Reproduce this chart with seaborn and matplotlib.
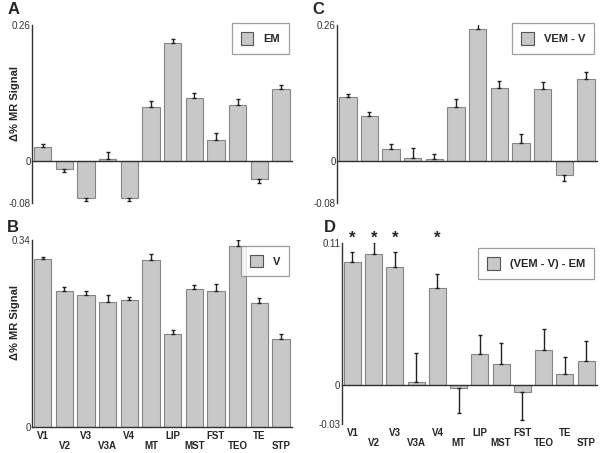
#!/usr/bin/env python3

import pandas as pd
import numpy as np
import matplotlib
matplotlib.use("Agg")
import matplotlib.pyplot as plt
import seaborn as sns
from matplotlib.patches import Patch

regions = ['V1', 'V2', 'V3', 'V3A', 'V4', 'MT', 'LIP', 'MST', 'FST', 'TEO', 'TE', 'STP']

em_values = [0.026, -0.015, -0.070, 0.004, -0.070, 0.104, 0.226, 0.121, 0.041, 0.108, -0.034, 0.137]
em_errors = [0.006, 0.006, 0.006, 0.013, 0.006, 0.011, 0.008, 0.009, 0.012, 0.010, 0.008, 0.009]

v_values = [0.305, 0.248, 0.241, 0.228, 0.231, 0.304, 0.170, 0.251, 0.248, 0.330, 0.226, 0.161]
v_errors = [0.005, 0.006, 0.006, 0.013, 0.006, 0.011, 0.007, 0.008, 0.012, 0.010, 0.008, 0.008]

vemv_values = [0.123, 0.087, 0.023, 0.006, 0.004, 0.103, 0.253, 0.140, 0.035, 0.137, -0.026, 0.157]
vemv_errors = [0.005, 0.007, 0.009, 0.019, 0.009, 0.016, 0.011, 0.012, 0.017, 0.014, 0.012, 0.013]

diff_values = [0.0952, 0.1010, 0.0911, 0.0023, 0.0747, -0.0018, 0.0240, 0.0166, -0.0056, 0.0271, 0.0084, 0.0189]
diff_errors = [0.0079, 0.0093, 0.0120, 0.0225, 0.0110, 0.0199, 0.0144, 0.0159, 0.0213, 0.0164, 0.0133, 0.0154]
diff_sig = [True, True, True, False, True, False, False, False, False, False, False, False]

BAR_COLOR = '#c8c8c8'
EDGE_COLOR = '#858585'

sns.set_style("white")
plt.rcParams['font.family'] = ['Liberation Sans', 'DejaVu Sans']


def fmt_tick(v):
    return '0' if v == 0 else f'{v:.2f}'


def draw_panel(fig, rect, values, errors, ylim, legend_text, letter,
               letter_pos, ylabel=False, xlabels=False, legend_box=None, sig=None):
    ax = fig.add_axes(rect)
    df = pd.DataFrame({'region': regions, 'value': values})
    sns.barplot(data=df, x='region', y='value', ax=ax, color=BAR_COLOR,
                saturation=1, edgecolor=EDGE_COLOR, linewidth=0.8, width=0.8)

    vals = np.array(values)
    errs = np.array(errors)
    lower = np.where(vals < 0, errs, 0)
    upper = np.where(vals >= 0, errs, 0)
    ax.errorbar(np.arange(len(regions)), vals, yerr=[lower, upper], fmt='none',
                ecolor='#222222', elinewidth=1.0, capsize=1.5, capthick=1.0)

    ax.set_xlim(-0.5, len(regions) - 0.5)
    ax.set_ylim(*ylim)
    for s in ['top', 'right']:
        ax.spines[s].set_visible(False)
    ax.spines['left'].set_color('#333333')
    ax.spines['left'].set_linewidth(1.0)
    ax.spines['bottom'].set_position(('data', 0))
    ax.spines['bottom'].set_color('#333333')
    ax.spines['bottom'].set_linewidth(1.0)

    yt = sorted(set([ylim[0], 0, ylim[1]]))
    ax.set_yticks(yt)
    ax.set_yticklabels([fmt_tick(v) for v in yt])
    ax.tick_params(axis='y', direction='in', length=3, width=1, labelsize=7,
                   colors='#333333', pad=1)
    ax.set_xticks(np.arange(len(regions)) + 0.5, minor=True)
    ax.set_xticks([])
    ax.tick_params(axis='x', which='minor', direction='out', length=3, width=1,
                   colors='#333333')
    ax.set_xlabel('')
    if ylabel:
        ax.set_ylabel('Δ% MR Signal', fontsize=8, fontweight='bold')
        ax.yaxis.set_label_coords(-0.045, 0.56)
    else:
        ax.set_ylabel('')

    if xlabels:
        sec = ax.secondary_xaxis(0.0)
        sec.set_xticks(np.arange(len(regions)))
        sec.set_xticklabels([r if i % 2 == 0 else '\n' + r for i, r in enumerate(regions)],
                            fontsize=7, fontweight='bold', linespacing=1.0)
        sec.tick_params(length=0, pad=3)
        sec.spines['bottom'].set_visible(False)

    if sig is not None:
        for i, flag in enumerate(sig):
            if flag:
                ax.text(i, ylim[1] - 0.002, '*', ha='center', va='bottom',
                        fontsize=12, fontweight='bold', clip_on=False)

    handle = Patch(facecolor=BAR_COLOR, edgecolor='#555555', linewidth=0.8)
    leg = ax.legend([handle], [legend_text], loc='upper right', bbox_to_anchor=legend_box,
                    frameon=True, fancybox=False, handlelength=1.1, handleheight=1.4,
                    borderpad=0.8, handletextpad=0.9, prop={'weight': 'bold', 'size': 8})
    leg.get_frame().set_edgecolor('#888888')
    leg.get_frame().set_linewidth(0.9)

    fig.text(letter_pos[0], letter_pos[1], letter, fontsize=12, fontweight='bold',
             ha='left', va='top')
    return ax


fig = plt.figure(figsize=(6.04, 4.53), dpi=100)

draw_panel(fig, [0.053, 0.552, 0.430, 0.393], em_values, em_errors, (-0.08, 0.26),
           'EM', 'A', (0.012, 0.995), ylabel=True, legend_box=(1.01, 1.04))
draw_panel(fig, [0.558, 0.552, 0.430, 0.393], vemv_values, vemv_errors, (-0.08, 0.26),
           'VEM - V', 'C', (0.517, 0.995), legend_box=(1.01, 1.04))
draw_panel(fig, [0.053, 0.057, 0.430, 0.413], v_values, v_errors, (0, 0.34),
           'V', 'B', (0.012, 0.515), ylabel=True, xlabels=True, legend_box=(1.01, 1.0))
draw_panel(fig, [0.566, 0.064, 0.422, 0.400], diff_values, diff_errors, (-0.03, 0.11),
           '(VEM - V) - EM', 'D', (0.537, 0.515), xlabels=True,
           legend_box=(1.01, 1.0), sig=diff_sig)

fig.savefig('out.png', dpi=100)
plt.close(fig)
